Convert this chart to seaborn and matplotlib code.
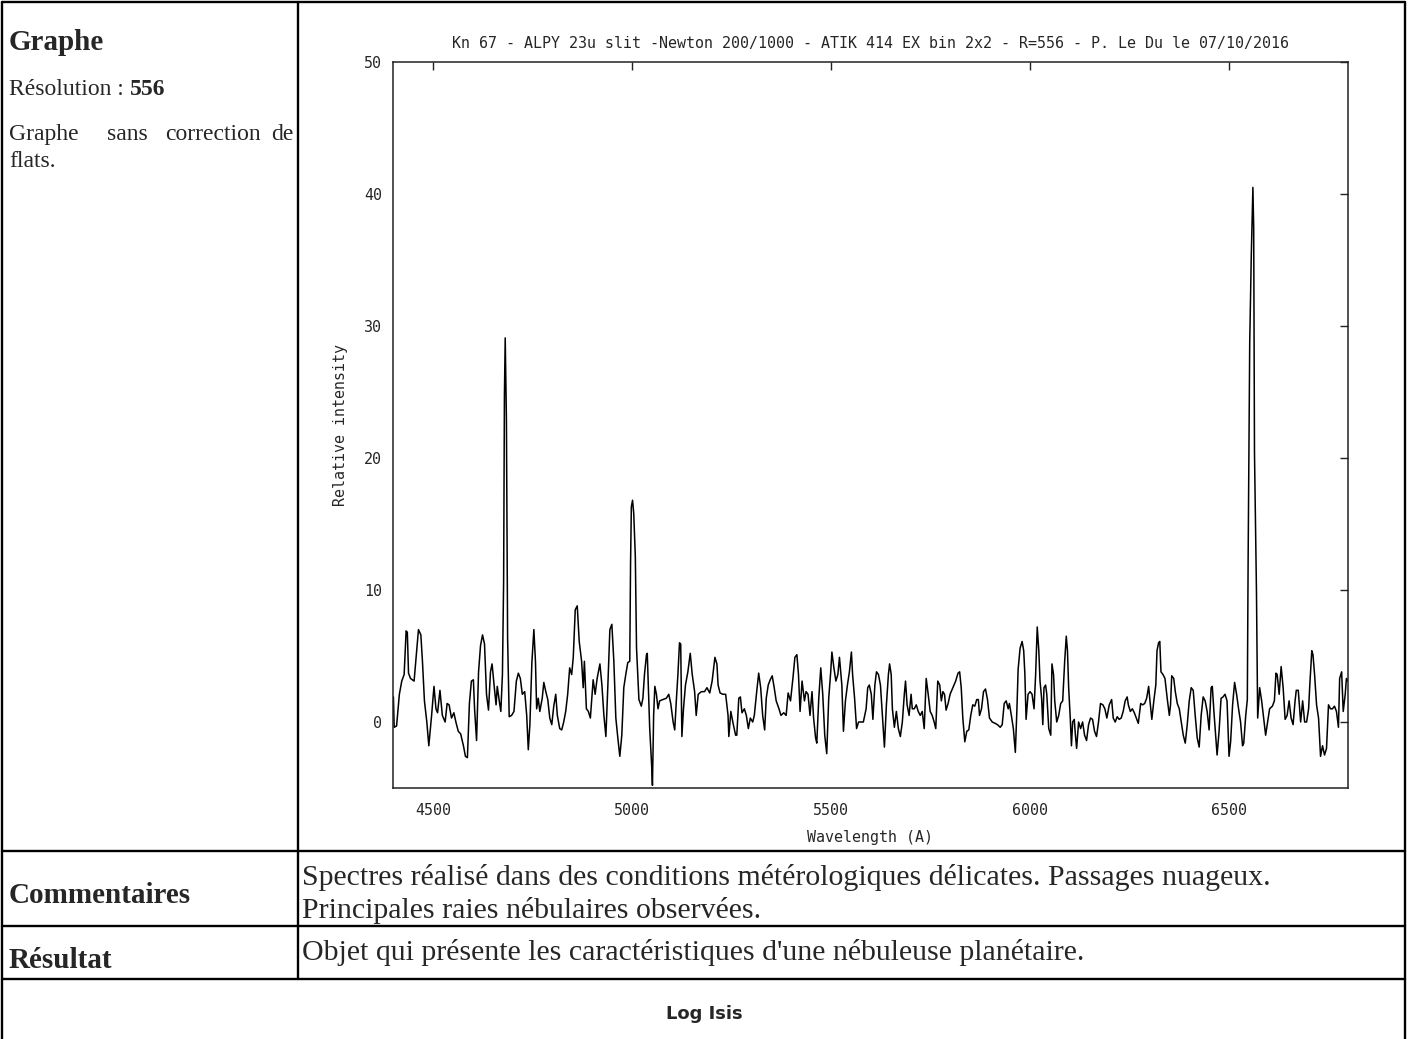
import numpy as np
import pandas as pd
import seaborn as sns
import matplotlib.pyplot as plt

# spectre Kn 67 (longueur d'onde en A, intensite relative)
wl_a = [4401, 4403, 4409, 4416, 4422, 4428, 4433, 4436, 4439, 4444,
        4453, 4458, 4464, 4470, 4474, 4479, 4485, 4490, 4497, 4503,
        4508, 4512, 4518, 4524, 4531, 4536, 4541, 4547, 4553, 4558,
        4564, 4570, 4577, 4582, 4587, 4592, 4597, 4602, 4605, 4610,
        4615, 4620, 4625, 4630, 4635, 4640, 4645, 4649, 4654, 4659,
        4662, 4667, 4671, 4675, 4678, 4680, 4682, 4685, 4688, 4692,
        4698, 4704, 4710, 4715, 4720, 4725, 4731, 4736, 4740, 4744,
        4749, 4754, 4758, 4761, 4765, 4769, 4775, 4779, 4784, 4789,
        4794, 4799, 4804, 4809, 4813, 4819, 4824, 4829, 4834, 4839,
        4844, 4849, 4853, 4858, 4863, 4868, 4874, 4878, 4881, 4886,
        4891, 4896, 4903, 4908, 4913, 4920, 4925, 4930, 4935, 4940,
        4945, 4950, 4955, 4960, 4965, 4970, 4975, 4980, 4985, 4990,
        4995, 4997, 4999, 5002, 5005, 5009, 5012]
int_a = [1.9, -0.4, -0.3, 2.1, 3.1, 3.6, 6.9, 6.8, 3.7, 3.3,
         3.1, 4.9, 7.0, 6.6, 4.6, 1.6, 0.0, -1.8, 0.5, 2.7,
         1.0, 0.7, 2.4, 0.5, 0.0, 1.4, 1.3, 0.3, 0.7, 0.0,
         -0.7, -0.9, -1.8, -2.6, -2.7, 1.4, 3.1, 3.2, 1.0, -1.4,
         3.8, 5.8, 6.6, 5.9, 2.1, 0.9, 3.8, 4.4, 2.8, 1.3,
         2.7, 1.6, 0.8, 3.6, 10.6, 24.7, 29.1, 23.0, 6.4, 0.4,
         0.5, 0.8, 3.1, 3.7, 3.3, 2.1, 2.3, 0.5, -2.1, -0.2,
         4.5, 7.0, 4.6, 1.0, 1.8, 0.8, 1.8, 3.0, 2.3, 1.7,
         0.3, -0.2, 1.2, 2.1, 0.5, -0.5, -0.6, 0.0, 0.8, 2.1,
         4.1, 3.6, 4.9, 8.5, 8.8, 6.1, 4.6, 2.6, 4.6, 1.0,
         0.8, 0.3, 3.2, 2.1, 3.3, 4.4, 2.8, 0.5, -1.1, 2.8,
         7.0, 7.4, 4.6, 0.3, -1.2, -2.6, -1.0, 2.6, 3.6, 4.5,
         4.6, 12.0, 16.3, 16.8, 15.8, 12.5, 5.6]

wl_b = [5018, 5024, 5028, 5032, 5037, 5039, 5042, 5045, 5050, 5052,
        5055, 5058, 5062, 5066, 5070, 5078, 5087, 5093, 5098, 5104,
        5108, 5112, 5116, 5120, 5123, 5126, 5130, 5135, 5141, 5147,
        5152, 5158, 5162, 5167, 5175, 5183, 5189, 5196, 5202, 5209,
        5214, 5217, 5222, 5229, 5236, 5242, 5244, 5249, 5254, 5261,
        5264, 5269, 5273, 5277, 5283, 5288, 5293, 5298, 5304, 5308,
        5314, 5319, 5324, 5329, 5334, 5338, 5343, 5348, 5353, 5358,
        5363, 5370, 5375, 5382, 5388, 5393, 5399, 5405, 5410, 5415,
        5419, 5423, 5428, 5434, 5438, 5443, 5448, 5453, 5457, 5462,
        5465, 5470, 5475, 5480, 5485, 5490, 5495, 5500, 5503, 5508,
        5513, 5518, 5522, 5525, 5528, 5532, 5537, 5542, 5547, 5552,
        5555, 5560, 5565, 5570, 5576, 5582, 5589, 5593, 5597]
int_b = [1.7, 1.2, 1.8, 3.6, 5.1, 5.2, 2.3, -0.4, -3.3, -4.8,
         0.5, 2.7, 2.1, 1.0, 1.6, 1.7, 1.8, 2.1, 1.4, 0.0,
         -0.6, 1.6, 3.6, 6.0, 5.9, -1.1, 1.0, 2.8, 3.8, 5.2,
         3.6, 2.3, 0.5, 2.1, 2.3, 2.3, 2.6, 2.2, 3.1, 4.9,
         4.4, 2.8, 2.2, 2.1, 2.1, 0.5, -1.1, 0.8, 0.0, -1.0,
         -1.0, 1.8, 1.9, 0.7, 1.0, 0.5, -0.5, 0.3, 0.0, 0.5,
         2.3, 3.7, 2.6, 0.5, -0.6, 1.8, 2.8, 3.2, 3.5, 2.6,
         1.6, 1.0, 0.5, 0.7, 0.5, 2.2, 1.6, 3.3, 4.9, 5.1,
         3.6, 0.8, 3.1, 1.6, 2.3, 2.1, 0.5, 2.3, 0.3, -1.2,
         -1.6, 1.8, 4.1, 2.1, -1.0, -2.4, 1.8, 3.8, 5.3, 4.1,
         3.1, 3.6, 4.9, 3.8, 2.8, -0.7, 1.6, 2.8, 3.8, 5.3,
         3.6, 1.8, -0.5, 0.0, 0.0, 0.0, 1.0, 2.6, 2.8]

wl_c = [5602, 5606, 5611, 5615, 5620, 5625, 5630, 5635, 5640, 5645,
        5648, 5652, 5655, 5660, 5665, 5670, 5675, 5680, 5685, 5688,
        5692, 5697, 5702, 5705, 5710, 5715, 5720, 5725, 5730, 5735,
        5740, 5745, 5750, 5755, 5760, 5764, 5769, 5774, 5778, 5782,
        5786, 5790, 5795, 5800, 5807, 5814, 5820, 5824, 5828, 5832,
        5837, 5842, 5847, 5852, 5857, 5862, 5867, 5871, 5874, 5879,
        5884, 5889, 5894, 5899, 5906, 5913, 5919, 5926, 5931, 5936,
        5941, 5946, 5949, 5954, 5959, 5964, 5968, 5971, 5976, 5981,
        5985, 5988, 5991, 5996, 6001, 6006, 6011, 6015, 6019, 6023,
        6026, 6030, 6033, 6036, 6040, 6043, 6048, 6053, 6056, 6060,
        6063, 6068, 6073, 6078, 6083, 6088, 6092, 6095, 6098, 6102,
        6105, 6108, 6112, 6115, 6118, 6123, 6128, 6133, 6138, 6143,
        6148, 6153, 6158, 6163, 6168, 6173, 6178, 6184, 6189, 6194,
        6200]
int_c = [2.1, 0.2, 2.8, 3.8, 3.6, 2.8, 0.5, -1.9, 1.3, 3.6,
         4.4, 3.6, 1.0, -0.4, 0.8, -0.5, -1.1, 0.0, 2.1, 3.1,
         1.3, 0.5, 2.1, 1.0, 1.0, 1.3, 0.8, 0.5, 0.8, -0.5,
         3.3, 2.1, 0.8, 0.5, 0.0, -0.5, 3.1, 2.8, 1.6, 2.3,
         2.1, 0.9, 1.4, 2.1, 2.6, 3.1, 3.7, 3.8, 2.6, 0.3,
         -1.5, -0.7, -0.6, 0.5, 1.3, 1.2, 1.7, 1.7, 0.5, 1.0,
         2.3, 2.5, 1.7, 0.3, 0.0, -0.1, -0.2, -0.4, -0.2, 1.4,
         1.6, 1.0, 1.4, 0.5, -0.5, -2.3, 1.0, 4.0, 5.6, 6.1,
         5.4, 3.6, 0.2, 2.1, 2.3, 2.1, 1.0, 3.6, 7.2, 5.4,
         3.1, 1.8, -0.2, 2.6, 2.8, 2.1, -0.5, -1.0, 4.4, 3.6,
         1.6, 0.0, 0.5, 1.4, 1.6, 4.6, 6.5, 5.4, 2.6, 0.3,
         -1.8, 0.0, 0.2, -1.0, -2.0, 0.0, -0.5, 0.0, -1.0, -1.4,
         -0.2, 0.3, 0.2, -0.7, -1.1, 0.0, 1.4, 1.3, 1.0, 0.3,
         1.3]

wl_d = [6206, 6210, 6215, 6220, 6225, 6230, 6235, 6240, 6245, 6248,
        6253, 6258, 6263, 6268, 6273, 6279, 6284, 6289, 6294, 6299,
        6302, 6307, 6312, 6317, 6320, 6324, 6327, 6330, 6335, 6340,
        6346, 6351, 6354, 6357, 6362, 6366, 6371, 6376, 6381, 6386,
        6391, 6396, 6401, 6406, 6411, 6416, 6421, 6426, 6431, 6436,
        6441, 6446, 6451, 6456, 6459, 6463, 6468, 6471, 6476, 6481,
        6486, 6491, 6496, 6501, 6505, 6510, 6515, 6520, 6525, 6530,
        6535, 6538, 6543, 6547, 6549, 6553, 6557, 6561, 6563, 6565,
        6570, 6573, 6578, 6583, 6588, 6593, 6598, 6603, 6610, 6615,
        6619, 6622, 6627, 6632, 6637, 6642, 6647, 6652, 6657, 6662,
        6667, 6670, 6675, 6681, 6686, 6691, 6696, 6701, 6704, 6709,
        6712, 6716, 6721, 6726, 6731, 6736, 6741, 6746, 6751, 6756,
        6761, 6766, 6771, 6776, 6779, 6784, 6788, 6793, 6796, 6800]
int_d = [1.7, 0.3, 0.0, 0.4, 0.2, 0.3, 0.8, 1.6, 1.9, 1.3,
         0.8, 1.0, 0.7, 0.3, -0.1, 1.4, 1.3, 1.4, 1.8, 2.7,
         1.7, 0.2, 1.6, 2.8, 5.4, 6.0, 6.1, 3.8, 3.6, 3.3,
         1.7, 0.5, 1.3, 3.5, 3.3, 2.3, 1.4, 1.0, 0.0, -1.0,
         -1.6, -0.2, 1.6, 2.6, 2.4, 0.5, -1.2, -1.9, 0.5, 1.9,
         1.6, 0.8, -0.6, 2.6, 2.7, 0.8, -1.2, -2.5, -0.7, 1.8,
         1.9, 2.1, 1.6, -2.6, -1.5, 1.3, 3.0, 2.1, 1.0, 0.0,
         -1.8, -1.6, 0.5, 1.7, 12.2, 28.7, 35.4, 40.5, 37.4, 20.4,
         9.8, 0.3, 2.6, 1.6, 0.3, -1.0, 0.0, 1.0, 1.2, 1.6,
         3.7, 3.6, 2.1, 4.2, 2.6, 0.2, 0.5, 1.6, 0.3, -0.2,
         1.6, 2.4, 2.4, 0.0, 1.6, 0.0, 0.0, 1.0, 2.8, 5.4,
         5.1, 3.6, 1.3, 0.3, -2.6, -1.8, -2.5, -2.0, 1.3, 1.0,
         1.0, 1.2, 0.8, -0.4, 3.3, 3.8, 0.8, 2.1, 3.3, 3.1]

x_ticks = [4500, 5000, 5500, 6000, 6500]
y_ticks = [0, 10, 20, 30, 40, 50]

titre = "Kn 67 - ALPY 23u slit -Newton 200/1000 - ATIK 414 EX bin 2x2 - R=556 - P. Le Du le 07/10/2016"
commentaire_1 = "Spectres réalisé dans des conditions métérologiques délicates. Passages nuageux."
commentaire_2 = "Principales raies nébulaires observées."
resultat = "Objet qui présente les caractéristiques d'une nébuleuse planétaire."

df = pd.DataFrame({
    "wavelength": wl_a + wl_b + wl_c + wl_d,
    "intensity": int_a + int_b + int_c + int_d,
})

sns.set_style("white")
W, H = 1408, 1039
fig = plt.figure(figsize=(W / 100, H / 100), dpi=100)

# fond : le tableau html (coordonnees en pixels)
bg = fig.add_axes([0, 0, 1, 1])
bg.set_xlim(0, W)
bg.set_ylim(H, 0)
bg.axis("off")

lw = 1.7
bg.plot([2, 2], [2, H], color="black", lw=lw)
bg.plot([W - 3, W - 3], [2, H], color="black", lw=lw)
bg.plot([2, W - 3], [2, 2], color="black", lw=lw)
bg.plot([298, 298], [2, 979], color="black", lw=lw)
for yy in [851, 926, 979]:
    bg.plot([2, W - 3], [yy, yy], color="black", lw=lw)

serif = "Liberation Serif"
bg.text(9, 50, "Graphe", family=serif, weight="bold", fontsize=21, va="baseline")
t = bg.text(9, 95, "Résolution :", family=serif, fontsize=17, va="baseline")
rend = fig.canvas.get_renderer()
x_end = t.get_window_extent(rend).x1
bg.text(x_end + 6, 95, "556", family=serif, weight="bold", fontsize=17, va="baseline")
for mot, xx in zip(["Graphe", "sans", "correction", "de"], [9, 107, 165, 271]):
    bg.text(xx, 140, mot, family=serif, fontsize=17, va="baseline")
bg.text(9, 167, "flats.", family=serif, fontsize=17, va="baseline")

bg.text(9, 903, "Commentaires", family=serif, weight="bold", fontsize=21, va="baseline")
bg.text(9, 968, "Résultat", family=serif, weight="bold", fontsize=21, va="baseline")
bg.text(302, 885, commentaire_1, family=serif, fontsize=21.5, va="baseline")
bg.text(302, 918, commentaire_2, family=serif, fontsize=21.5, va="baseline")
bg.text(302, 960, resultat, family=serif, fontsize=21.5, va="baseline")
bg.text(704, 1019, "Log Isis", family="DejaVu Sans", weight="bold", fontsize=13,
        ha="center", va="baseline")

# le graphe lui-meme
ax = fig.add_axes([393 / W, 1 - 788 / H, (1348 - 393) / W, (788 - 62) / H])
sns.lineplot(data=df, x="wavelength", y="intensity", ax=ax, color="black",
             lw=1.1, sort=False, estimator=None)
ax.set_xlim(4400, 6800)
ax.set_ylim(-5, 50)
ax.set_xticks(x_ticks)
ax.set_yticks(y_ticks)
mono = "DejaVu Sans Mono"
ax.set_xticklabels([str(v) for v in x_ticks], family=mono, fontsize=10.8)
ax.set_yticklabels([str(v) for v in y_ticks], family=mono, fontsize=10.8)
ax.tick_params(axis="both", direction="in", top=True, right=True, length=6,
               width=1, color="#222222")
ax.tick_params(axis="x", pad=11)
ax.tick_params(axis="y", pad=8)
for s in ax.spines.values():
    s.set_color("#222222")
    s.set_linewidth(1.1)
ax.set_title(titre, family=mono, fontsize=10.8, pad=10)
ax.set_xlabel("Wavelength (A)", family=mono, fontsize=10.8)
ax.set_ylabel("Relative intensity", family=mono, fontsize=10.8)
ax.xaxis.set_label_coords(0.5, (788 - 830) / 726)
ax.yaxis.set_label_coords((348 - 393) / 955, 0.5)
ax.set_facecolor("white")

fig.savefig("out.png", dpi=100)
